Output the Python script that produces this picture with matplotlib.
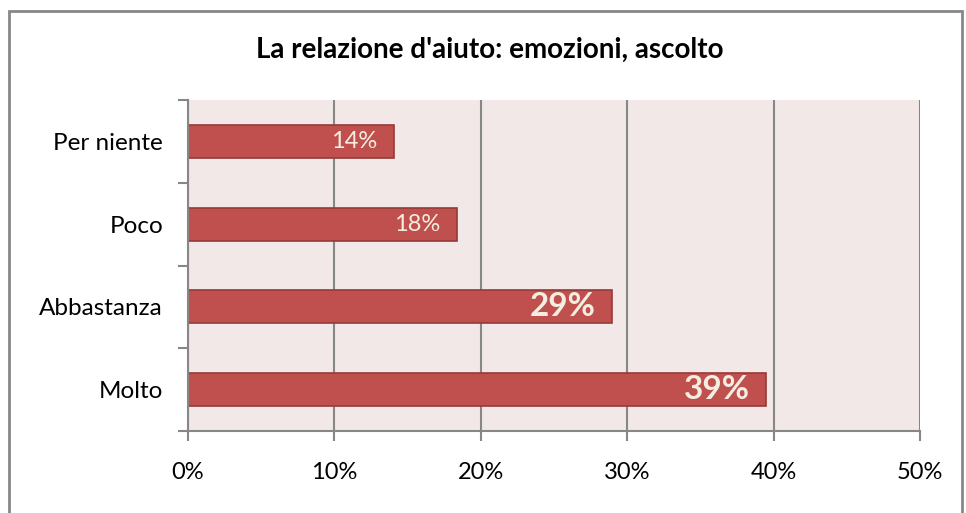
import matplotlib
matplotlib.use("Agg")
import matplotlib.pyplot as plt
from matplotlib.patches import Rectangle
from matplotlib.ticker import FuncFormatter, MultipleLocator, FixedLocator

plt.rcParams['font.family'] = ['Lato', 'DejaVu Sans']

title = "La relazione d'aiuto: emozioni, ascolto"
categories = ["Per niente", "Poco", "Abbastanza", "Molto"]
values = [14.07, 18.4, 28.96, 39.5]
labels = ["14%", "18%", "29%", "39%"]
big_label = [False, False, True, True]

W, H = 966, 513
fig = plt.figure(figsize=(W / 100, H / 100), dpi=100)
ax = fig.add_axes([188 / W, 1 - 431 / H, (920 - 188) / W, (431 - 100) / H])

grey = '#878787'
ax.set_facecolor('#F2E8E8')
ypos = list(range(len(categories)))[::-1]
ax.barh(ypos, values, height=0.4, color='#C0504D', edgecolor='#963A38', linewidth=1.2, zorder=3)

for y, v, lab, big in zip(ypos, values, labels, big_label):
    ax.text(v - 1.15, y, lab, ha='right', va='center', color='#F3EEE1',
            fontsize=24 if big else 17, fontweight='bold' if big else 'normal', zorder=4)

ax.set_xlim(0, 50)
ax.set_ylim(-0.5, len(categories) - 0.5)
ax.xaxis.set_major_locator(MultipleLocator(10))
ax.xaxis.set_major_formatter(FuncFormatter(lambda x, p: f"{x:.0f}%"))
ax.set_yticks(ypos)
ax.set_yticklabels(categories)
ax.yaxis.set_minor_locator(FixedLocator([-0.5, 0.5, 1.5, 2.5, 3.5]))
ax.tick_params(axis='y', which='major', length=0, pad=18, labelsize=17.5, colors='black')
ax.tick_params(axis='y', which='minor', length=7, width=1.5, color=grey)
ax.tick_params(axis='x', which='major', length=7, width=1.5, color=grey, labelsize=17, pad=15)

ax.grid(axis='x', color=grey, linewidth=1.5, zorder=1)
for s in ['top', 'right']:
    ax.spines[s].set_visible(False)
for s in ['left', 'bottom']:
    ax.spines[s].set_color(grey)
    ax.spines[s].set_linewidth(1.5)
    ax.spines[s].set_zorder(5)

fig.text(490 / W, 1 - 50 / H, title, ha='center', va='center', fontsize=20, fontweight='bold')

fig.patches.append(Rectangle((9 / W, -0.01), (962 - 9) / W, 1 - 11 / H + 0.01,
                             transform=fig.transFigure, fill=False, edgecolor=grey, linewidth=2))

fig.savefig('out.png', dpi=100)
